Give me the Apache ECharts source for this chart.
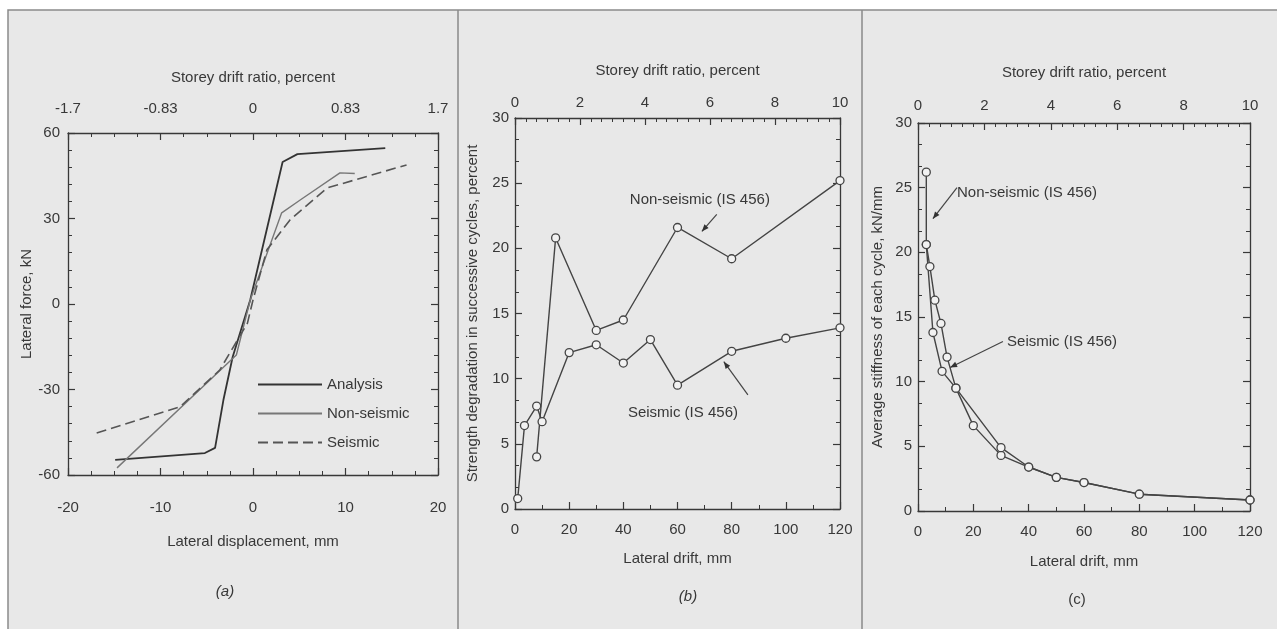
<!DOCTYPE html>
<html>
<head>
<meta charset="utf-8">
<script src="https://cdn.jsdelivr.net/npm/echarts@6/dist/echarts.min.js"></script>
<style>
  html, body { margin: 0; padding: 0; background: #fff; }
  #chart { width: 1277px; height: 629px; }
</style>
</head>
<body>
<div id="chart"></div>
<script>
// (a) load-displacement envelopes
const aAnalysisDisp = [-14.9, -5.2, -4.1, -3.2, -2.2, -0.3, 3.2, 4.8, 14.3];
const aAnalysisForce = [-54.7, -52.3, -50.5, -33.7, -18.6, 1.4, 49.8, 52.6, 54.7];
const aNonSeismicDisp = [-14.7, -1.8, -0.3, 3.1, 5.1, 9.4, 11.0];
const aNonSeismicForce = [-57.5, -17.9, 1.4, 32, 36.5, 46, 45.8];
const aSeismicDisp = [-16.9, -7.9, -3.6, -0.6, 0.0, 1.5, 4.0, 8.0, 16.6];
const aSeismicForce = [-45.3, -36.1, -23.2, -6.7, 1.4, 19, 29.5, 40.7, 48.8];
const aDriftTicks = ['-1.7', '-0.83', '0', '0.83', '1.7'];

// (b) strength degradation
const bNonSeismicDrift = [8, 15, 30, 40, 60, 80, 120];
const bNonSeismicLoss = [4.0, 20.8, 13.7, 14.5, 21.6, 19.2, 25.2];
const bSeismicDrift = [1, 3.5, 8, 10, 20, 30, 40, 50, 60, 80, 100, 120];
const bSeismicLoss = [0.8, 6.4, 7.9, 6.7, 12.0, 12.6, 11.2, 13.0, 9.5, 12.1, 13.1, 13.9];

// (c) average stiffness
const cNonSeismicDrift = [3, 3, 5.4, 8.7, 13.7, 20, 30, 40, 50, 60, 80, 120];
const cNonSeismicK = [26.2, 20.6, 13.8, 10.8, 9.5, 6.6, 4.3, 3.4, 2.6, 2.2, 1.3, 0.85];
const cSeismicDrift = [3, 4.3, 6.1, 8.3, 10.5, 13.7, 30, 40, 50, 60, 80, 120];
const cSeismicK = [20.6, 18.9, 16.3, 14.5, 11.9, 9.5, 4.9, 3.4, 2.6, 2.2, 1.3, 0.85];

const ink = '#383838';
const font = '"Liberation Sans", Arial, sans-serif';
const fs = 15;

const zip = (xs, ys) => xs.map((x, i) => [x, ys[i]]);

function axis(o) {
  const label = { show: o.labels !== false, color: ink, fontSize: fs, fontFamily: font, margin: o.margin || 8 };
  if (o.formatter) label.formatter = o.formatter;
  return {
    type: 'value',
    gridIndex: o.grid,
    position: o.pos,
    min: o.min, max: o.max, interval: o.interval,
    axisLine: { show: true, onZero: false, lineStyle: { color: ink, width: 1.3 } },
    axisTick: { show: true, inside: true, length: 7, lineStyle: { color: ink, width: 1.2 } },
    minorTick: { show: true, splitNumber: o.minor, length: 4, lineStyle: { color: ink, width: 1 } },
    splitLine: { show: false },
    axisLabel: label,
    name: o.title || '',
    nameLocation: 'middle',
    nameGap: o.gap || 30,
    nameTextStyle: { color: ink, fontSize: fs, fontFamily: font }
  };
}

function plain(name, data, color, width, type) {
  return {
    name: name, type: 'line', xAxisIndex: 0, yAxisIndex: 0, symbol: 'none',
    data: data, itemStyle: { color: color },
    lineStyle: { color: color, width: width, type: type || 'solid' }
  };
}

function marked(name, data, xi, yi) {
  return {
    name: name, type: 'line', xAxisIndex: xi, yAxisIndex: yi,
    data: data, symbol: 'circle', symbolSize: 8,
    itemStyle: { color: '#f2f2f2', borderColor: '#444', borderWidth: 1.3 },
    lineStyle: { color: '#444', width: 1.4 }
  };
}

const chart = echarts.init(document.getElementById('chart'));

chart.setOption({
  backgroundColor: '#ffffff',
  animation: false,
  grid: [
    { left: 68, top: 133, width: 370, height: 342 },
    { left: 515, top: 118, width: 325, height: 391 },
    { left: 918, top: 123, width: 332, height: 388 }
  ],
  xAxis: [
    axis({ grid: 0, pos: 'bottom', min: -20, max: 20, interval: 10, minor: 4, margin: 25, title: 'Lateral displacement, mm', gap: 59 }),
    axis({ grid: 0, pos: 'top', min: -20, max: 20, interval: 10, minor: 4, margin: 17, title: 'Storey drift ratio, percent', gap: 48,
      formatter: (v, i) => aDriftTicks[i] }),
    axis({ grid: 1, pos: 'bottom', min: 0, max: 120, interval: 20, minor: 2, margin: 13, title: 'Lateral drift, mm', gap: 42 }),
    axis({ grid: 1, pos: 'top', min: 0, max: 10, interval: 2, minor: 6, margin: 8, title: 'Storey drift ratio, percent', gap: 40 }),
    axis({ grid: 2, pos: 'bottom', min: 0, max: 120, interval: 20, minor: 2, margin: 13, title: 'Lateral drift, mm', gap: 43 }),
    axis({ grid: 2, pos: 'top', min: 0, max: 10, interval: 2, minor: 6, margin: 10, title: 'Storey drift ratio, percent', gap: 43 })
  ],
  yAxis: [
    axis({ grid: 0, pos: 'left', min: -60, max: 60, interval: 30, minor: 5, margin: 8, title: 'Lateral force, kN', gap: 32 }),
    axis({ grid: 0, pos: 'right', min: -60, max: 60, interval: 30, minor: 5, labels: false }),
    axis({ grid: 1, pos: 'left', min: 0, max: 30, interval: 5, minor: 3, margin: 6, title: 'Strength degradation in successive cycles, percent', gap: 35 }),
    axis({ grid: 1, pos: 'right', min: 0, max: 30, interval: 5, minor: 3, labels: false }),
    axis({ grid: 2, pos: 'left', min: 0, max: 30, interval: 5, minor: 3, margin: 6, title: 'Average stiffness of each cycle, kN/mm', gap: 33 }),
    axis({ grid: 2, pos: 'right', min: 0, max: 30, interval: 5, minor: 3, labels: false })
  ],
  legend: {
    data: ['Analysis', 'Non-seismic', 'Seismic'],
    orient: 'vertical', left: 252, top: 372,
    itemWidth: 64, itemHeight: 14, itemGap: 14,
    itemStyle: { opacity: 0 },
    textStyle: { color: ink, fontSize: fs, fontFamily: font }
  },
  series: [
    plain('Analysis', zip(aAnalysisDisp, aAnalysisForce), '#333', 1.8),
    plain('Non-seismic', zip(aNonSeismicDisp, aNonSeismicForce), '#777', 1.4),
    plain('Seismic', zip(aSeismicDisp, aSeismicForce), '#555', 1.6, [10, 5]),
    marked('Non-seismic (IS 456) b', zip(bNonSeismicDrift, bNonSeismicLoss), 2, 2),
    marked('Seismic (IS 456) b', zip(bSeismicDrift, bSeismicLoss), 2, 2),
    marked('Non-seismic (IS 456) c', zip(cNonSeismicDrift, cNonSeismicK), 4, 4),
    marked('Seismic (IS 456) c', zip(cSeismicDrift, cSeismicK), 4, 4)
  ]
});

// annotations placed in data coordinates of panels (b) and (c)
const notes = [
  { ax: 2, text: 'Non-seismic (IS 456)', at: [42.4, 23.7], from: [74.5, 22.6], to: [69, 21.3] },
  { ax: 2, text: 'Seismic (IS 456)', at: [41.7, 7.4], from: [86, 8.75], to: [77.1, 11.3] },
  { ax: 4, text: 'Non-seismic (IS 456)', at: [14.1, 24.6], from: [14.1, 25.0], to: [5.4, 22.6] },
  { ax: 4, text: 'Seismic (IS 456)', at: [32.2, 13.1], from: [30.7, 13.1], to: [11.6, 11.1] }
];

const px = (ax, p) => chart.convertToPixel({ xAxisIndex: ax, yAxisIndex: ax }, p);

const graphics = [
  { type: 'rect', z: -10, silent: true, shape: { x: 8, y: 10, width: 1275, height: 625 },
    style: { fill: '#e8e8e8', stroke: '#8a8a8a', lineWidth: 1.5 } },
  { type: 'line', z: -9, silent: true, shape: { x1: 458, y1: 10, x2: 458, y2: 629 }, style: { stroke: '#8a8a8a', lineWidth: 1.5 } },
  { type: 'line', z: -9, silent: true, shape: { x1: 862, y1: 10, x2: 862, y2: 629 }, style: { stroke: '#8a8a8a', lineWidth: 1.5 } },
  { type: 'text', style: { text: '(a)', x: 225, y: 592, fill: ink, font: 'italic 15px ' + font, textAlign: 'center', textVerticalAlign: 'middle' } },
  { type: 'text', style: { text: '(b)', x: 688, y: 597, fill: ink, font: 'italic 15px ' + font, textAlign: 'center', textVerticalAlign: 'middle' } },
  { type: 'text', style: { text: '(c)', x: 1077, y: 600, fill: ink, font: '15px ' + font, textAlign: 'center', textVerticalAlign: 'middle' } }
];

notes.forEach(n => {
  const t = px(n.ax, n.at), a = px(n.ax, n.from), b = px(n.ax, n.to);
  graphics.push({ type: 'text', style: { text: n.text, x: t[0], y: t[1], fill: ink, font: fs + 'px ' + font, textVerticalAlign: 'middle' } });
  graphics.push({ type: 'line', shape: { x1: a[0], y1: a[1], x2: b[0], y2: b[1] }, style: { stroke: '#444', lineWidth: 1.2 } });
  const dx = b[0] - a[0], dy = b[1] - a[1], len = Math.hypot(dx, dy);
  const ux = dx / len, uy = dy / len;
  graphics.push({ type: 'polygon', shape: { points: [
    [b[0], b[1]],
    [b[0] - ux * 7 + uy * 2.8, b[1] - uy * 7 - ux * 2.8],
    [b[0] - ux * 7 - uy * 2.8, b[1] - uy * 7 + ux * 2.8]
  ] }, style: { fill: '#333' } });
});

chart.setOption({ graphic: graphics });
</script>
</body>
</html>
